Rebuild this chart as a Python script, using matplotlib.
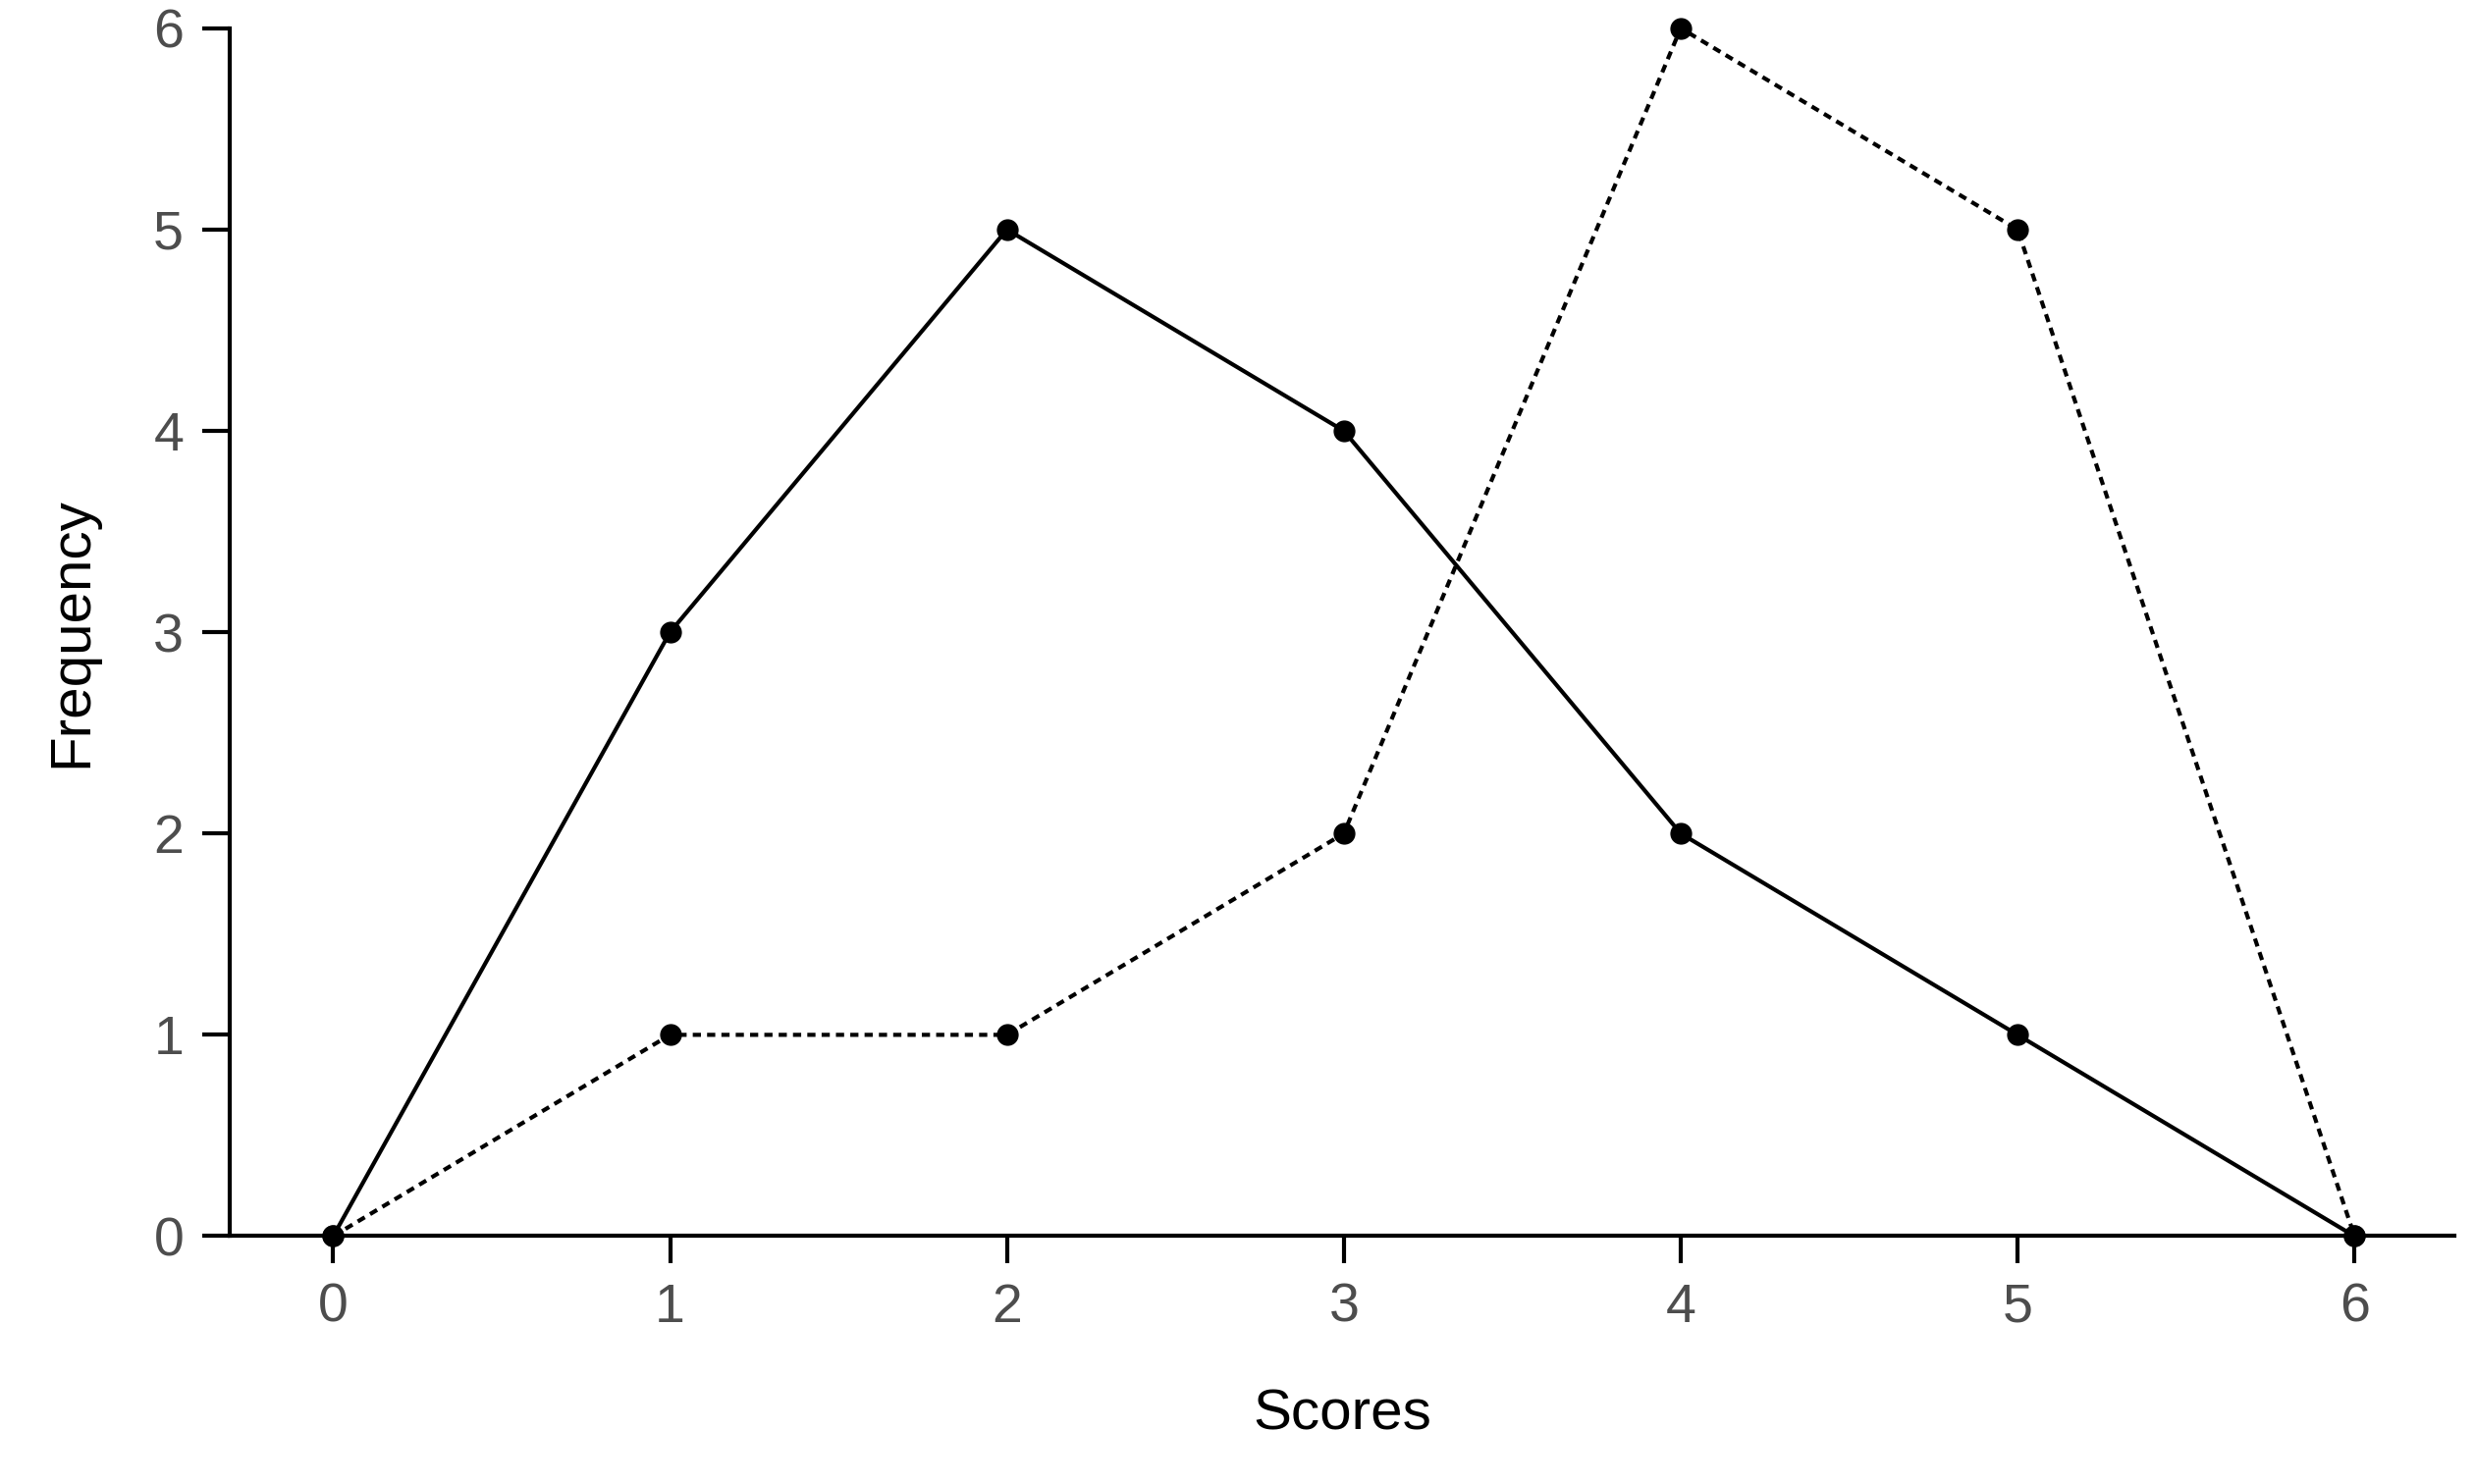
import matplotlib
matplotlib.use("Agg")
import matplotlib.pyplot as plt

plt.rcParams['font.family'] = ['Liberation Sans', 'DejaVu Sans']

scores = [0, 1, 2, 3, 4, 5, 6]
freq_a = [0, 3, 5, 4, 2, 1, 0]
freq_b = [0, 1, 1, 2, 6, 5, 0]

fig = plt.figure(figsize=(25.2, 15.12), dpi=100)
ax = fig.add_axes([0.093, 0.167, 0.899, 0.814])
ax.plot(scores, freq_a, color="black", lw=3.0, marker="o", ms=15, clip_on=False)
ax.plot(scores, freq_b, color="black", lw=3.0, ls=(0, (2, 1.5)), marker="o", ms=15, clip_on=False)
ax.set_xlim(-0.306, 6.296)
ax.set_ylim(0, 6)
ax.set_xticks(scores)
ax.set_yticks(range(7))
for s in ["top", "right"]:
    ax.spines[s].set_visible(False)
for s in ["left", "bottom"]:
    ax.spines[s].set_linewidth(3.0)
ax.tick_params(direction="out", length=20, width=3.0, labelsize=40, labelcolor="#4d4d4d", pad=14)
ax.set_xlabel("Scores", fontsize=42, labelpad=40)
ax.set_ylabel("Frequency", fontsize=42, labelpad=40)
fig.savefig("out.png", dpi=100)
